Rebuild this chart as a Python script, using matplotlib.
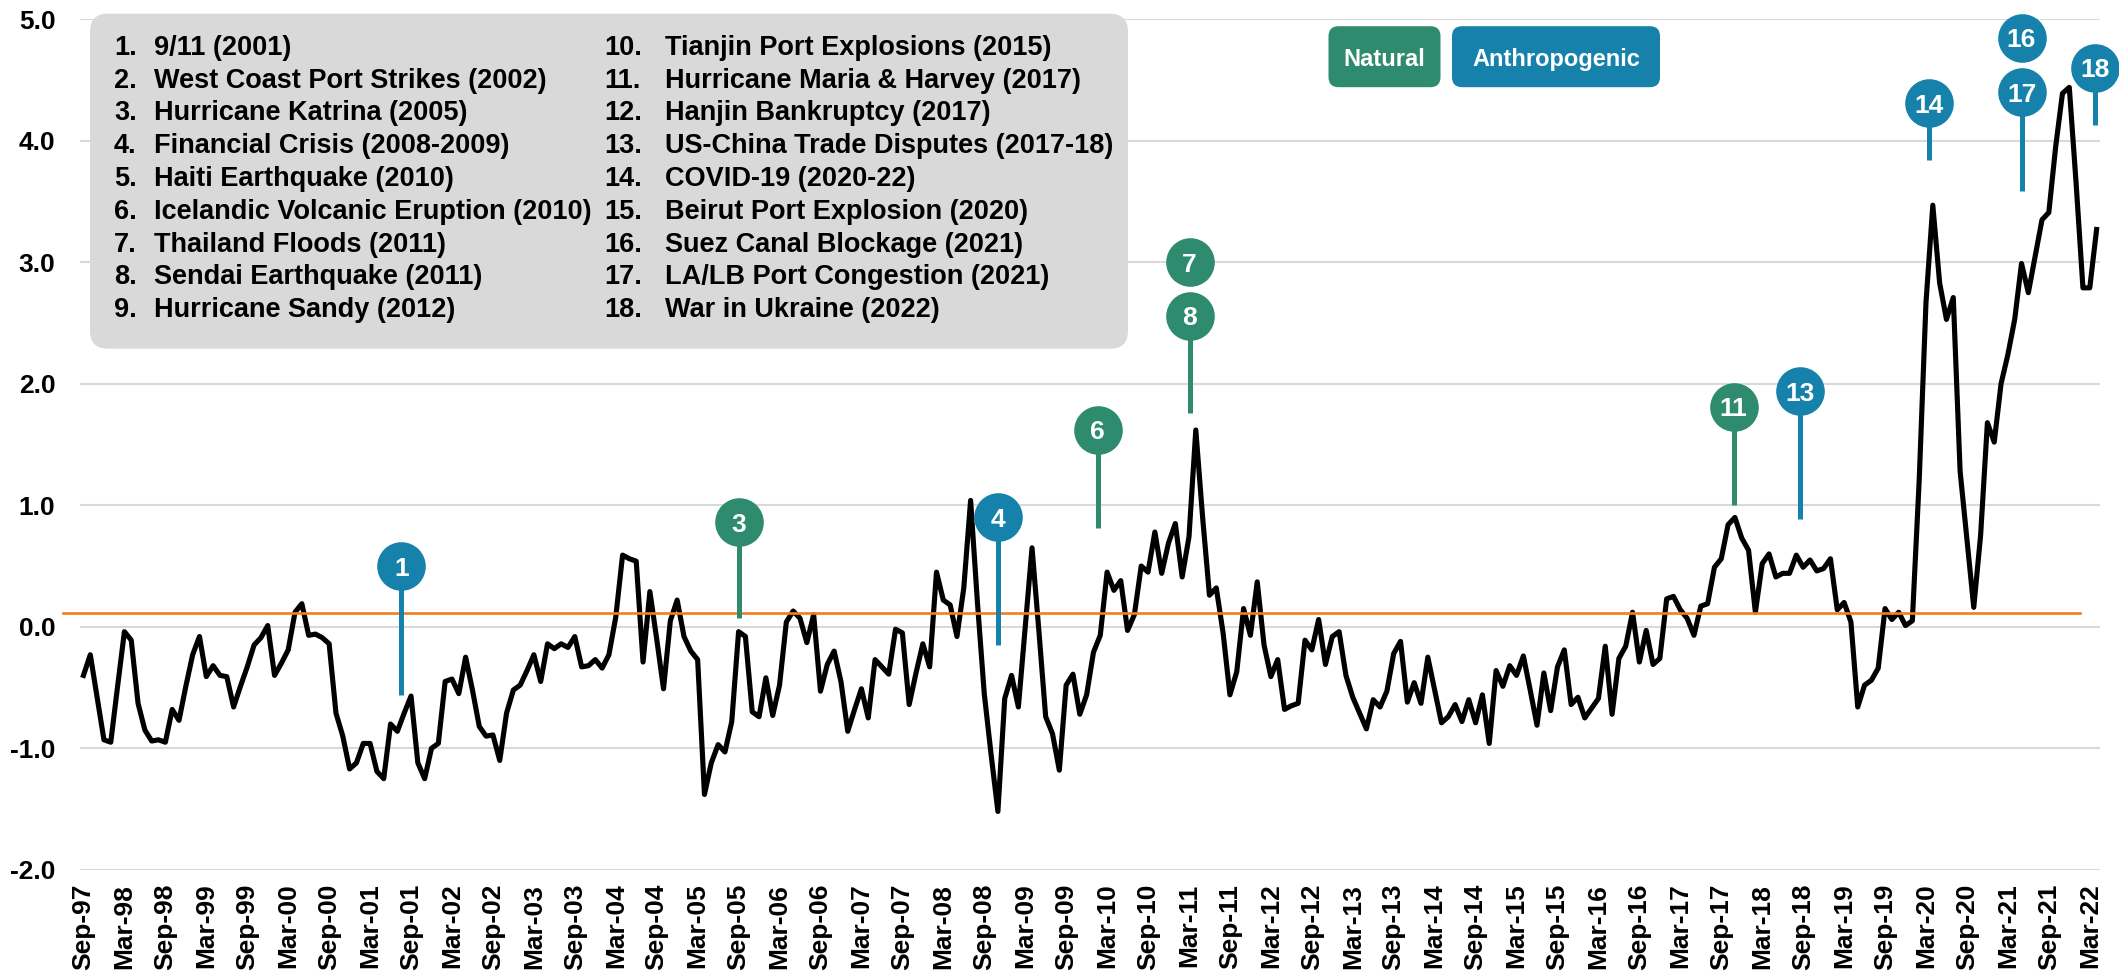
import numpy as np
import pandas as pd
import matplotlib.pyplot as plt
from matplotlib.patches import FancyBboxPatch

plt.rcParams['font.family'] = ['Liberation Sans', 'DejaVu Sans']

# monthly index, Sep-97 .. Apr-22
start_month = '1997-09'
index_values = [
    -0.40, -0.23, -0.58, -0.93, -0.95, -0.49, -0.04, -0.11, -0.63, -0.85,
    -0.94, -0.93, -0.95, -0.68, -0.77, -0.49, -0.23, -0.08, -0.41, -0.32,
    -0.40, -0.41, -0.66, -0.49, -0.33, -0.15, -0.09, 0.01, -0.40, -0.30,
    -0.19, 0.12, 0.19, -0.07, -0.06, -0.09, -0.14, -0.71, -0.90, -1.17,
    -1.12, -0.96, -0.96, -1.19, -1.25, -0.80, -0.86, -0.71, -0.57, -1.12,
    -1.25, -1.00, -0.96, -0.45, -0.43, -0.55, -0.25, -0.52, -0.82, -0.90,
    -0.89, -1.10, -0.71, -0.52, -0.48, -0.36, -0.23, -0.45, -0.14, -0.18,
    -0.14, -0.17, -0.08, -0.33, -0.32, -0.27, -0.34, -0.23, 0.08, 0.59,
    0.56, 0.54, -0.29, 0.29, -0.10, -0.51, 0.05, 0.22, -0.08, -0.20,
    -0.27, -1.38, -1.12, -0.97, -1.03, -0.78, -0.04, -0.08, -0.70, -0.74,
    -0.42, -0.73, -0.48, 0.04, 0.13, 0.07, -0.13, 0.10, -0.53, -0.31,
    -0.20, -0.45, -0.86, -0.68, -0.51, -0.75, -0.27, -0.33, -0.39, -0.02,
    -0.05, -0.64, -0.38, -0.14, -0.33, 0.45, 0.22, 0.18, -0.08, 0.32,
    1.04, 0.20, -0.55, -1.05, -1.52, -0.59, -0.40, -0.66, 0.00, 0.65,
    -0.03, -0.74, -0.88, -1.18, -0.48, -0.39, -0.72, -0.56, -0.21, -0.07,
    0.45, 0.30, 0.38, -0.03, 0.10, 0.50, 0.45, 0.78, 0.44, 0.69,
    0.85, 0.41, 0.74, 1.62, 0.90, 0.26, 0.32, -0.05, -0.56, -0.37,
    0.15, -0.07, 0.37, -0.15, -0.41, -0.27, -0.68, -0.65, -0.63, -0.11,
    -0.19, 0.06, -0.31, -0.08, -0.04, -0.40, -0.58, -0.71, -0.84, -0.60,
    -0.66, -0.53, -0.22, -0.12, -0.62, -0.46, -0.63, -0.25, -0.52, -0.79,
    -0.74, -0.64, -0.78, -0.60, -0.79, -0.56, -0.96, -0.36, -0.49, -0.32,
    -0.40, -0.24, -0.52, -0.81, -0.38, -0.69, -0.33, -0.19, -0.64, -0.58,
    -0.75, -0.67, -0.59, -0.16, -0.72, -0.26, -0.16, 0.12, -0.29, -0.03,
    -0.31, -0.26, 0.23, 0.25, 0.14, 0.07, -0.07, 0.17, 0.19, 0.49,
    0.56, 0.84, 0.90, 0.73, 0.63, 0.12, 0.52, 0.60, 0.41, 0.44,
    0.44, 0.59, 0.49, 0.55, 0.46, 0.48, 0.56, 0.14, 0.20, 0.04,
    -0.66, -0.48, -0.44, -0.34, 0.15, 0.06, 0.12, 0.01, 0.05, 1.20,
    2.67, 3.47, 2.83, 2.53, 2.71, 1.28, 0.72, 0.16, 0.75, 1.68,
    1.52, 2.00, 2.24, 2.53, 2.99, 2.75, 3.05, 3.35, 3.41, 3.95,
    4.39, 4.44, 3.65, 2.79, 2.79, 3.27,
]
average_level = 0.11

# events: number, month position, circle height, stem bottom, type
event_ids = ['1', '3', '4', '6', '8', '11', '13', '14', '17', '18']
event_month = [46.6, 96.0, 134.0, 148.6, 162.1, 241.8, 251.6, 270.5, 284.0, 294.8]
event_top = [0.50, 0.86, 0.90, 1.62, 2.56, 1.81, 1.94, 4.31, 4.40, 4.60]
event_bottom = [-0.56, 0.07, -0.15, 0.81, 1.76, 1.00, 0.89, 3.84, 3.59, 4.13]
event_type = ['A', 'N', 'A', 'N', 'N', 'N', 'A', 'A', 'A', 'A']
# second bubble stacked above the first one
stacked_ids = ['7', '16']
stacked_month = [162.1, 284.0]
stacked_top = [3.00, 4.85]
stacked_type = ['N', 'A']

legend_left = ["9/11 (2001)", "West Coast Port Strikes (2002)", "Hurricane Katrina (2005)",
               "Financial Crisis (2008-2009)", "Haiti Earthquake (2010)",
               "Icelandic Volcanic Eruption (2010)", "Thailand Floods (2011)",
               "Sendai Earthquake (2011)", "Hurricane Sandy (2012)"]
legend_right = ["Tianjin Port Explosions (2015)", "Hurricane Maria & Harvey (2017)",
                "Hanjin Bankruptcy (2017)", "US-China Trade Disputes (2017-18)",
                "COVID-19 (2020-22)", "Beirut Port Explosion (2020)",
                "Suez Canal Blockage (2021)", "LA/LB Port Congestion (2021)",
                "War in Ukraine (2022)"]

GREEN = '#2E8B6E'
BLUE = '#1682AC'
colors = {'N': GREEN, 'A': BLUE}

W, H = 2119, 977
fig = plt.figure(figsize=(W / 100, H / 100), dpi=100)
ax = fig.add_axes([80.4 / W, 1 - 869.8 / H, (2100 - 80.4) / W, (869.8 - 19.3) / H])

months = pd.date_range(start_month, periods=len(index_values), freq='MS')
x = np.arange(len(index_values))

ax.plot(x, index_values, color='black', lw=3.7, zorder=3, solid_joinstyle='round')
ax.plot([-3, 292.6], [average_level, average_level], color='#F07F22', lw=1.9,
        zorder=4, clip_on=False)

# event bubbles
for eid, m, top, bot, t in zip(event_ids, event_month, event_top, event_bottom, event_type):
    ax.plot([m, m], [bot, top], color=colors[t], lw=3.6, zorder=5, solid_capstyle='butt')
    ax.plot(m, top, 'o', ms=35, color=colors[t], mew=0, zorder=6, clip_on=False)
    ax.text(m, top, eid, color='white', fontsize=19, fontweight='bold',
            ha='center', va='center_baseline', zorder=7, clip_on=False)
for eid, m, top, t in zip(stacked_ids, stacked_month, stacked_top, stacked_type):
    ax.plot(m, top, 'o', ms=35, color=colors[t], mew=0, zorder=6, clip_on=False)
    ax.text(m, top, eid, color='white', fontsize=19, fontweight='bold',
            ha='center', va='center_baseline', zorder=7, clip_on=False)

ax.set_xlim(-0.45, len(index_values) - 0.5)
ax.set_ylim(-2, 5)
ax.set_xticks(x[::6])
ax.set_xticklabels(months[::6].strftime('%b-%y'), rotation=90, fontsize=19, fontweight='bold')
ax.set_yticks(range(-2, 6))
ax.set_yticklabels(['%.1f' % v for v in range(-2, 6)], fontsize=19, fontweight='bold')
ax.tick_params(length=0)
ax.tick_params(axis='y', pad=18)
ax.tick_params(axis='x', pad=10)
ax.yaxis.grid(True, color='#D9D9D9', lw=1.5)
ax.set_axisbelow(True)
for s in ax.spines.values():
    s.set_visible(False)

# overlay in pixel coordinates for the boxes
ov = fig.add_axes([0, 0, 1, 1])
ov.set_xlim(0, W)
ov.set_ylim(H, 0)
ov.axis('off')
ov.patch.set_visible(False)

ov.add_patch(FancyBboxPatch((90, 13.7), 1038, 335, boxstyle='round,pad=0,rounding_size=18',
                            fc='#D9D9D9', ec='none'))
for k, txt in enumerate(legend_left):
    yy = 44.9 + 32.8 * k
    ov.text(114, yy, '%d.' % (k + 1), fontsize=19.5, fontweight='bold', va='center_baseline')
    ov.text(153.8, yy, txt, fontsize=19.5, fontweight='bold', va='center_baseline')
for k, txt in enumerate(legend_right):
    yy = 44.9 + 32.8 * k
    ov.text(604.7, yy, '%d.' % (k + 10), fontsize=19.5, fontweight='bold', va='center_baseline')
    ov.text(664.8, yy, txt, fontsize=19.5, fontweight='bold', va='center_baseline')

# Natural / Anthropogenic keys
ov.add_patch(FancyBboxPatch((1328.5, 26.2), 112, 61, boxstyle='round,pad=0,rounding_size=10',
                            fc=GREEN, ec='none'))
ov.text(1384.5, 56.7, 'Natural', color='white', fontsize=17, fontweight='bold',
        ha='center', va='center_baseline')
ov.add_patch(FancyBboxPatch((1452, 26.2), 208, 61, boxstyle='round,pad=0,rounding_size=10',
                            fc=BLUE, ec='none'))
ov.text(1556, 56.7, 'Anthropogenic', color='white', fontsize=17, fontweight='bold',
        ha='center', va='center_baseline')

fig.savefig('out.png', dpi=100)
